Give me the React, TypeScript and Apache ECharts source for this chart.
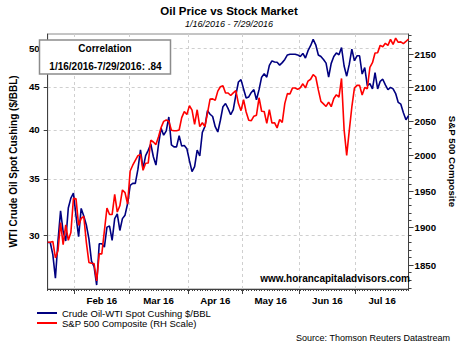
import React, { useEffect, useRef } from 'react';
import * as echarts from 'echarts';

// Weekday calendar used by the source chart (holidays carry the previous value)
function weekdays(start: string, end: string): string[] {
  const out: string[] = [];
  const d = new Date(start + 'T00:00:00Z');
  const e = new Date(end + 'T00:00:00Z');
  while (d <= e) {
    const w = d.getUTCDay();
    if (w !== 0 && w !== 6) out.push(d.toISOString().slice(0, 10));
    d.setUTCDate(d.getUTCDate() + 1);
  }
  return out;
}
const dates: string[] = weekdays('2016-01-15', '2016-07-29');

const monthKeys = ['2016-02', '2016-03', '2016-04', '2016-05', '2016-06', '2016-07'];
const monthLabels = ['Feb 16', 'Mar 16', 'Apr 16', 'May 16', 'Jun 16', 'Jul 16'];

// WTI crude oil spot Cushing ($/BBL)
const wtiJan = [29.42, 29.42, 28.46, 26.68, 29.55, 32.07, 30.31, 29.54, 32.32, 33.21, 33.66];
const wtiFeb = [31.62, 29.9, 32.29, 31.63, 30.86, 29.71, 27.96, 27.54, 26.19, 29.32, 29.32, 29.05, 30.68, 30.77, 29.59, 31.4, 31.8, 30.4, 31.4, 31.7, 32.7];
const wtiMar = [34.39, 34.57, 34.57, 35.92, 37.9, 36.0, 37.3, 37.84, 38.5, 37.18, 36.34, 38.46, 40.2, 39.44, 39.91, 41.45, 38.4, 38.2, 38.2, 39.39, 38.28, 38.34, 38.0];
const wtiApr = [36.79, 35.7, 36.2, 37.87, 37.26, 39.74, 40.38, 42.17, 41.76, 41.5, 40.36, 39.78, 41.08, 42.63, 43.0, 42.4, 41.7, 42.3, 44.0, 45.6, 45.9];
const wtiMay = [44.75, 43.65, 43.78, 44.32, 44.66, 43.44, 44.66, 46.21, 46.64, 46.21, 47.72, 48.31, 48.16, 48.12, 47.75, 48.08, 48.5, 49.1, 49.2, 49.2, 49.2, 49.1];
const wtiJun = [48.89, 49.3, 48.69, 49.68, 50.35, 51.23, 50.48, 49.09, 48.89, 48.49, 48.01, 46.22, 47.98, 48.88, 49.37, 49.13, 50.11, 47.64, 46.33, 47.85, 49.88, 48.33];
const wtiJul = [48.99, 48.99, 46.6, 47.43, 45.14, 45.41, 44.76, 46.8, 44.75, 45.68, 45.95, 45.24, 44.65, 44.94, 44.75, 44.19, 43.13, 42.92, 41.92, 41.14, 41.6];

// S&P 500 Composite (RH scale)
const spxJan = [1880.33, 1880.33, 1881.33, 1859.33, 1868.99, 1906.9, 1877.08, 1903.63, 1882.95, 1893.36, 1940.24];
const spxFeb = [1939.38, 1903.03, 1912.53, 1915.45, 1880.05, 1853.44, 1852.21, 1851.86, 1829.08, 1864.78, 1864.78, 1895.58, 1926.82, 1917.83, 1917.78, 1945.5, 1921.27, 1929.8, 1951.7, 1948.05, 1932.23];
const spxMar = [1978.35, 1986.45, 1993.4, 1999.99, 2001.76, 1979.26, 1989.26, 1989.57, 2022.19, 2019.64, 2015.93, 2027.22, 2040.59, 2049.58, 2051.6, 2049.8, 2036.71, 2035.94, 2035.94, 2037.05, 2055.01, 2063.95, 2059.74];
const spxApr = [2072.78, 2066.13, 2045.17, 2066.66, 2041.91, 2047.6, 2041.99, 2061.72, 2082.42, 2082.78, 2080.73, 2094.34, 2100.8, 2102.4, 2091.48, 2091.58, 2087.79, 2091.7, 2095.15, 2075.81, 2065.3];
const spxMay = [2081.43, 2063.37, 2051.12, 2050.63, 2057.14, 2058.69, 2084.39, 2064.46, 2064.11, 2046.61, 2066.66, 2047.21, 2047.63, 2040.04, 2052.32, 2048.04, 2076.06, 2090.54, 2090.1, 2099.06, 2099.06, 2096.95];
const spxJun = [2099.33, 2105.26, 2099.13, 2109.41, 2112.13, 2119.12, 2115.48, 2096.07, 2079.06, 2075.32, 2071.5, 2077.99, 2071.22, 2083.25, 2088.9, 2085.45, 2113.32, 2037.41, 2000.54, 2036.09, 2070.77, 2098.86];
const spxJul = [2102.95, 2102.95, 2088.55, 2099.73, 2097.9, 2129.9, 2137.16, 2152.14, 2152.43, 2163.75, 2161.74, 2166.89, 2163.78, 2173.02, 2165.17, 2175.03, 2168.48, 2169.18, 2166.58, 2170.06, 2173.6];

const wti = [...wtiJan, ...wtiFeb, ...wtiMar, ...wtiApr, ...wtiMay, ...wtiJun, ...wtiJul];
const spx = [...spxJan, ...spxFeb, ...spxMar, ...spxApr, ...spxMay, ...spxJun, ...spxJul];

const leftTicks = [30, 35, 40, 45, 50];
const rightTicks = [1850, 1900, 1950, 2000, 2050, 2100, 2150];
const rightMinorStep = 10;
const leftRange = [25.91, 51.99];
const rightRange = [1818.6, 2181.4];

const seriesNames = ['Crude Oil-WTI Spot Cushing $/BBL', 'S&P 500 Composite (RH Scale)'];
const FONT = '"Liberation Sans", Arial, sans-serif';

export default function App() {
  const ref = useRef<HTMLDivElement>(null);
  useEffect(() => {
    if (!ref.current) return;
    const chart = echarts.init(ref.current, null, { renderer: 'svg' });
    const ln = Math.log;

    const bounds = monthKeys.map((k) => dates.findIndex((d) => d.startsWith(k)) - 0.5);
    const lastIdx = dates.length - 1;
    const labelPos = bounds.map((b, i) => (b + (i + 1 < bounds.length ? bounds[i + 1] : lastIdx)) / 2);

    const minor: number[] = [];
    for (let v = Math.ceil(rightRange[0] / rightMinorStep) * rightMinorStep; v <= rightRange[1]; v += rightMinorStep) {
      minor.push(ln(v));
    }

    const axisLineStyle = { color: '#404040', width: 1 };
    const gridLine = { show: true, lineStyle: { color: '#cfcfcf', type: [3, 3] as any, width: 1 } };
    const tickLabel = { color: '#000', fontSize: 9.7, fontWeight: 'bold' as const, fontFamily: FONT };

    chart.setOption({
      animation: false,
      textStyle: { fontFamily: FONT },
      grid: { left: 35, right: 52, top: 34, bottom: 60, show: true, borderColor: '#8a8a8a', borderWidth: 1, backgroundColor: '#fff' },
      xAxis: [
        {
          type: 'category',
          data: dates,
          boundaryGap: false,
          position: 'bottom',
          axisLine: { show: true, onZero: false, lineStyle: axisLineStyle },
          axisTick: { show: true, interval: 0, length: 2, lineStyle: { color: '#404040' } },
          axisLabel: { show: false },
          splitLine: { show: false },
        },
        {
          type: 'value',
          min: 0,
          max: lastIdx,
          position: 'bottom',
          axisLine: { show: false, onZero: false },
          axisTick: { show: true, length: 5, customValues: bounds, lineStyle: { color: '#404040' } },
          axisLabel: {
            ...tickLabel,
            margin: 6,
            customValues: labelPos,
            formatter: (v: number) => {
              const i = labelPos.findIndex((p) => Math.abs(p - v) < 0.01);
              return i >= 0 ? monthLabels[i] : '';
            },
          },
          splitLine: gridLine,
        },
      ],
      yAxis: [
        {
          type: 'value',
          position: 'left',
          min: ln(leftRange[0]),
          max: ln(leftRange[1]),
          axisLine: { show: true, onZero: false, lineStyle: axisLineStyle },
          axisTick: { show: true, length: 4, customValues: leftTicks.map(ln), lineStyle: { color: '#404040' } },
          axisLabel: {
            ...tickLabel,
            margin: 8,
            customValues: leftTicks.map(ln),
            formatter: (v: number) => String(Math.round(Math.exp(v))),
          },
          splitLine: gridLine,
          name: 'WTI Crude Oil Spot Cushing ($/BBL)',
          nameLocation: 'middle',
          nameGap: 19,
          nameTextStyle: { color: '#000', fontSize: 10, fontWeight: 'bold', fontFamily: FONT },
        },
        {
          type: 'value',
          position: 'right',
          min: ln(rightRange[0]),
          max: ln(rightRange[1]),
          axisLine: { show: true, onZero: false, lineStyle: axisLineStyle },
          axisTick: { show: true, length: 5, customValues: rightTicks.map(ln), lineStyle: { color: '#404040' } },
          axisLabel: {
            ...tickLabel,
            margin: 6,
            customValues: rightTicks.map(ln),
            formatter: (v: number) => String(Math.round(Math.exp(v))),
          },
          splitLine: { show: false },
          name: 'S&P 500 Composite',
          nameLocation: 'middle',
          nameRotate: -90,
          nameGap: 30,
          nameTextStyle: { color: '#000', fontSize: 9.7, fontWeight: 'bold', fontFamily: FONT },
        },
        {
          type: 'value',
          position: 'right',
          min: ln(rightRange[0]),
          max: ln(rightRange[1]),
          axisLine: { show: false, onZero: false },
          axisTick: { show: true, length: 3, customValues: minor, lineStyle: { color: '#404040' } },
          axisLabel: { show: false },
          splitLine: { show: false },
        },
      ],
      legend: {
        orient: 'vertical',
        left: 37,
        top: 308,
        padding: 0,
        itemGap: 0,
        itemWidth: 20,
        itemHeight: 2,
        icon: 'rect',
        textStyle: { fontSize: 9.5, color: '#000', lineHeight: 10, fontFamily: FONT },
        data: seriesNames,
      },
      series: [
        {
          name: seriesNames[0],
          type: 'line',
          xAxisIndex: 0,
          yAxisIndex: 0,
          data: wti.map((v) => ln(v)),
          showSymbol: false,
          symbol: 'none',
          lineStyle: { color: '#000080', width: 1.6 },
          itemStyle: { color: '#000080' },
        },
        {
          name: seriesNames[1],
          type: 'line',
          xAxisIndex: 0,
          yAxisIndex: 1,
          data: spx.map((v) => ln(v)),
          showSymbol: false,
          symbol: 'none',
          lineStyle: { color: '#ff0000', width: 1.6 },
          itemStyle: { color: '#ff0000' },
        },
      ],
      graphic: [
        {
          type: 'text', x: 229, y: 11,
          style: { text: 'Oil Price vs Stock Market', align: 'center', verticalAlign: 'middle', textAlign: 'center', textVerticalAlign: 'middle', fontSize: 11.5, fontWeight: 'bold', fontFamily: FONT, fill: '#000' },
        },
        {
          type: 'text', x: 229, y: 24,
          style: { text: '1/16/2016 - 7/29/2016', align: 'center', verticalAlign: 'middle', textAlign: 'center', textVerticalAlign: 'middle', fontSize: 9, fontStyle: 'italic', fontFamily: FONT, fill: '#000' },
        },
        {
          type: 'rect', shape: { x: 39.5, y: 40, width: 131, height: 34 },
          style: { fill: '#fff', stroke: '#8c8c8c', lineWidth: 1.5 }, z: 10,
        },
        {
          type: 'text', x: 105, y: 48.5, z: 11,
          style: { text: 'Correlation', align: 'center', verticalAlign: 'middle', textAlign: 'center', textVerticalAlign: 'middle', fontSize: 10, fontWeight: 'bold', fontFamily: FONT, fill: '#000' },
        },
        {
          type: 'text', x: 105.5, y: 66, z: 11,
          style: { text: '1/16/2016-7/29/2016: .84', align: 'center', verticalAlign: 'middle', textAlign: 'center', textVerticalAlign: 'middle', fontSize: 10, fontWeight: 'bold', fontFamily: FONT, fill: '#000' },
        },
        {
          type: 'text', x: 410, y: 278.5, z: 11,
          style: { text: 'www.horancapitaladvisors.com', align: 'right', verticalAlign: 'middle', textAlign: 'right', textVerticalAlign: 'middle', fontSize: 10, fontWeight: 'bold', fontFamily: FONT, fill: '#000' },
        },
        {
          type: 'text', x: 450, y: 337.5,
          style: { text: 'Source: Thomson Reuters Datastream', align: 'right', verticalAlign: 'middle', textAlign: 'right', textVerticalAlign: 'middle', fontSize: 9, fontFamily: FONT, fill: '#000' },
        },
      ],
    });
    return () => chart.dispose();
  }, []);
  return <div ref={ref} style={{ position: 'absolute', left: 0, top: 0, width: 465, height: 349 }} />;
}
